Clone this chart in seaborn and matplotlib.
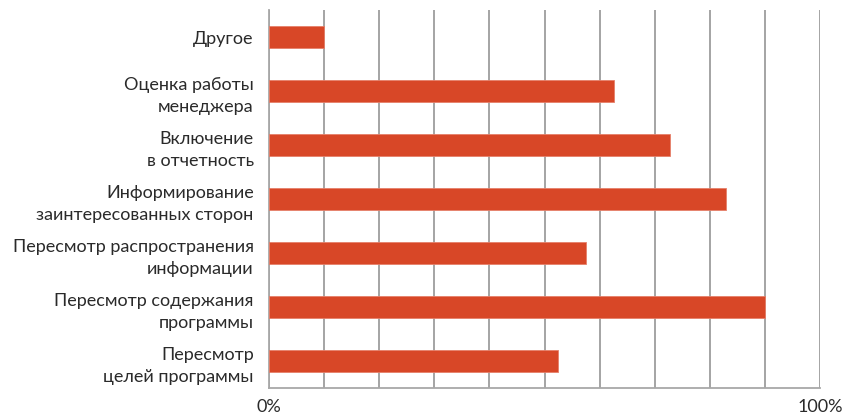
import matplotlib
matplotlib.use("Agg")
import matplotlib.pyplot as plt
import seaborn as sns
import pandas as pd

categories = [
    "Другое",
    "Оценка работы\nменеджера",
    "Включение\nв отчетность",
    "Информирование\nзаинтересованных сторон",
    "Пересмотр распространения\nинформации",
    "Пересмотр содержания\nпрограммы",
    "Пересмотр\nцелей программы",
]
shares = [10, 62.7, 72.8, 83, 57.6, 90, 52.5]
x_tick_values = [0, 100]
x_tick_labels = ["0%", "100%"]

df = pd.DataFrame({"category": categories, "share": shares})

sns.set_theme(style="white")
plt.rcParams["font.family"] = ["Lato", "DejaVu Sans"]

fig = plt.figure(figsize=(8.44, 4.15), dpi=100)
ax = fig.add_axes([269 / 844, 27 / 415, 551 / 844, 378 / 415])

sns.barplot(data=df, x="share", y="category", orient="h", color="#D84727",
            width=0.39, edgecolor="#E6806A", linewidth=0.6, ax=ax, zorder=3,
            saturation=1)

ax.set_xlim(0, 100)
ax.set_xticks(range(0, 101, 10))
ax.set_xticklabels(["" if v not in x_tick_values else x_tick_labels[x_tick_values.index(v)]
                    for v in range(0, 101, 10)])
ax.grid(axis="x", color="#8c8c8c", linewidth=1.1, zorder=0)
ax.grid(axis="y", visible=False)
ax.set_axisbelow(True)

for side in ("top", "right"):
    ax.spines[side].set_visible(False)
for side in ("left", "bottom"):
    ax.spines[side].set_color("#a8a8a8")
    ax.spines[side].set_linewidth(1.3)

ax.tick_params(axis="both", length=0, labelsize=13, colors="#2a2a2a")
ax.tick_params(axis="y", pad=11)
ax.tick_params(axis="x", pad=8)
for lbl in ax.get_yticklabels():
    lbl.set_linespacing(1.5)

ax.set_xlabel("")
ax.set_ylabel("")

fig.savefig("out.png", dpi=100)
